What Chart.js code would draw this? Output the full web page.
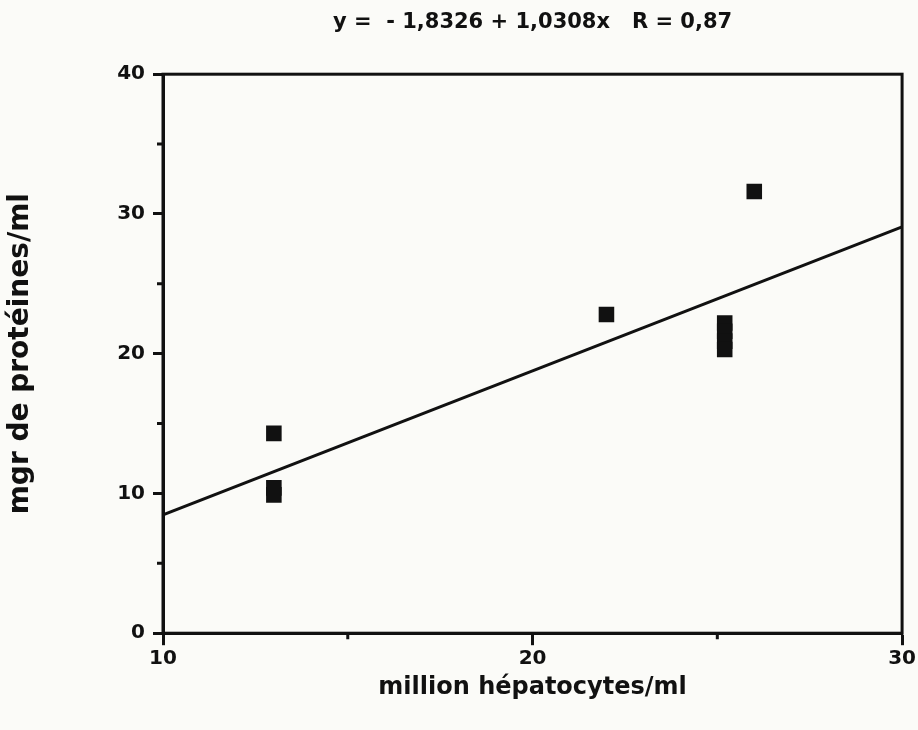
<!DOCTYPE html>
<html>
<head>
<meta charset="utf-8">
<script src="https://cdn.jsdelivr.net/npm/chart.js@4"></script>
<style>
  html, body { margin: 0; padding: 0; background: #fbfbf8; }
  #wrap { width: 918px; height: 730px; }
</style>
</head>
<body>
<div id="wrap"><canvas id="myChart" width="918" height="730"></canvas></div>
<script>
// measured points (million hepatocytes/ml vs mg proteins/ml)
const hepatocytes = [13, 13, 13, 22, 25.2, 25.2, 25.2, 25.2, 26];
const proteines   = [14.3, 10.4, 9.9, 22.8, 22.2, 21.6, 20.9, 20.3, 31.6];

// regression line end points, y = -1,8326 + 1,0308x
const lineX = [10, 30];
const lineY = [8.47, 29.08];

const xTicks = [10, 20, 30];
const yTicks = [0, 10, 20, 30, 40];
const xMinor = [15, 25];
const yMinor = [5, 15, 25, 35];

const titleText = 'y =  - 1,8326 + 1,0308x   R = 0,87';
const xTitle = 'million hépatocytes/ml';
const yTitle = 'mgr de protéines/ml';

const ink = '#111';
const fontFamily = '"DejaVu Sans", Arial, sans-serif';

// box round the plot area plus the short minor ticks
const frameBox = {
  id: 'frameBox',
  afterDraw(chart) {
    const a = chart.chartArea;
    const c = chart.ctx;
    c.save();
    c.strokeStyle = ink;
    c.lineWidth = 3;
    c.strokeRect(a.left, a.top, a.right - a.left, a.bottom - a.top);
    c.beginPath();
    xMinor.forEach(v => {
      const px = chart.scales.x.getPixelForValue(v);
      c.moveTo(px, a.bottom);
      c.lineTo(px, a.bottom + 6);
    });
    yMinor.forEach(v => {
      const py = chart.scales.y.getPixelForValue(v);
      c.moveTo(a.left, py);
      c.lineTo(a.left - 6, py);
    });
    c.stroke();
    c.restore();
  }
};

let ctx = document.getElementById('myChart').getContext('2d');

let chart = new Chart(ctx, {
  type: 'scatter',
  data: {
    datasets: [{
      label: 'points',
      data: hepatocytes.map((x, i) => ({x: x, y: proteines[i]})),
      pointStyle: 'rect',
      pointRadius: 11,
      pointBackgroundColor: ink,
      pointBorderColor: ink,
      borderWidth: 0
    }, {
      label: 'regression',
      type: 'line',
      data: lineX.map((x, i) => ({x: x, y: lineY[i]})),
      borderColor: ink,
      borderWidth: 3,
      pointRadius: 0,
      fill: false
    }]
  },
  plugins: [frameBox],
  options: {
    responsive: false,
    animation: false,
    layout: {
      padding: {top: 0, right: 15, bottom: 28, left: 0}
    },
    plugins: {
      legend: {display: false},
      tooltip: {enabled: false},
      title: {display: false}
    },
    scales: {
      // top axis only carries the equation, centred over the plot
      xTop: {
        type: 'linear',
        position: 'top',
        min: 10,
        max: 30,
        grid: {display: false},
        border: {display: false},
        ticks: {display: false},
        title: {
          display: true,
          text: titleText,
          color: ink,
          font: {family: fontFamily, size: 21, weight: 'bold'},
          padding: {top: 10, bottom: 31}
        }
      },
      x: {
        type: 'linear',
        min: 10,
        max: 30,
        afterBuildTicks: axis => { axis.ticks = xTicks.map(v => ({value: v})); },
        grid: {display: true, drawOnChartArea: false, tickLength: 12, tickWidth: 3, tickColor: ink},
        border: {display: true, color: ink, width: 3},
        ticks: {color: ink, font: {family: fontFamily, size: 20, weight: 'bold'}, padding: 2, maxRotation: 0},
        title: {
          display: true,
          text: xTitle,
          color: ink,
          font: {family: fontFamily, size: 24, weight: 'bold'},
          padding: {top: 0, bottom: 0}
        }
      },
      y: {
        type: 'linear',
        min: 0,
        max: 40,
        afterBuildTicks: axis => { axis.ticks = yTicks.map(v => ({value: v})); },
        afterFit: axis => { axis.width = 163; },
        grid: {display: true, drawOnChartArea: false, tickLength: 10, tickWidth: 3, tickColor: ink},
        border: {display: true, color: ink, width: 3},
        ticks: {color: ink, font: {family: fontFamily, size: 20, weight: 'bold'}, padding: 8},
        title: {
          display: true,
          text: yTitle,
          color: ink,
          font: {family: fontFamily, size: 28, weight: 'bold'},
          padding: {bottom: 0}
        }
      }
    }
  }
});
</script>
</body>
</html>
